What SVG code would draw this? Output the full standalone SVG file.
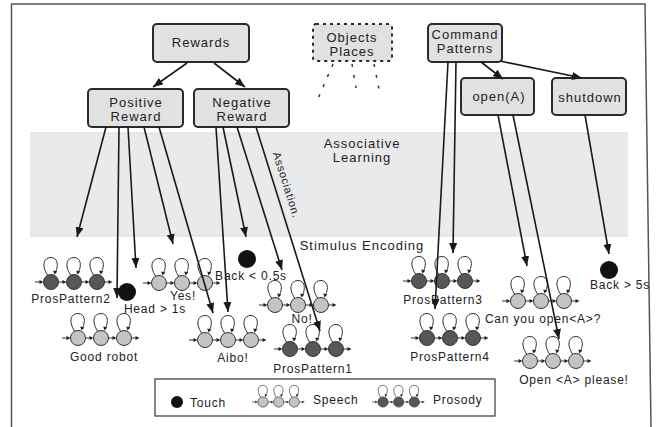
<svg xmlns="http://www.w3.org/2000/svg" xmlns:xlink="http://www.w3.org/1999/xlink" width="656" height="427" viewBox="0 0 656 427">
<style>
.box{fill:#e1e1e1;stroke:#2a2a2a;stroke-width:2}
.dbox{fill:#e1e1e1;stroke:#2a2a2a;stroke-width:2;stroke-dasharray:3,4}
.bt{font-family:"Liberation Sans",Arial,sans-serif;font-size:13px;letter-spacing:1px;fill:#222;text-anchor:middle}
.lt{font-family:"Liberation Sans",Arial,sans-serif;font-size:12px;letter-spacing:0.8px;fill:#222;text-anchor:middle}
.con{stroke:#1a1a1a;stroke-width:1.6;fill:none;marker-end:url(#ah)}
.dash{stroke:#333;stroke-width:1.5;fill:none;stroke-dasharray:3,8}
.sp{fill:#c4c4c4}
.pr{fill:#575757}
.dot{fill:#111}
</style>
<defs>
<marker id="ah" markerUnits="userSpaceOnUse" markerWidth="10" markerHeight="8" refX="10" refY="4" orient="auto">
<path d="M0,0 L10,4 L0,8 z" fill="#1a1a1a"/>
</marker>
<g id="loop">
<path d="M-3.5,-7 C-10,-17 -7,-24.5 0,-24.5 C6.5,-24.5 8,-17 4.5,-10" fill="none" stroke="#333" stroke-width="1"/>
<path d="M3.5,-7.5 L2.2,-11.5 L6.4,-10.6 z" fill="#222"/>
</g>
<g id="pat">
<line x1="-16" y1="0" x2="-11" y2="0" stroke="#333" stroke-width="1"/>
<path d="M-7.5,0 L-11.5,-2 L-11.5,2 z" fill="#222"/>
<line x1="7.5" y1="0" x2="12" y2="0" stroke="#333" stroke-width="1"/>
<path d="M15.5,0 L11.5,-2 L11.5,2 z" fill="#222"/>
<line x1="30.5" y1="0" x2="35" y2="0" stroke="#333" stroke-width="1"/>
<path d="M38.5,0 L34.5,-2 L34.5,2 z" fill="#222"/>
<line x1="53.5" y1="0" x2="58" y2="0" stroke="#333" stroke-width="1"/>
<path d="M61.5,0 L57.5,-2 L57.5,2 z" fill="#222"/>
<circle cx="0" cy="0" r="7.5" stroke="#333" stroke-width="1"/>
<circle cx="23" cy="0" r="7.5" stroke="#333" stroke-width="1"/>
<circle cx="46" cy="0" r="7.5" stroke="#333" stroke-width="1"/>
<use xlink:href="#loop" x="0" y="0"/>
<use xlink:href="#loop" x="23" y="0"/>
<use xlink:href="#loop" x="46" y="0"/>
</g>
</defs>
<rect x="0" y="0" width="656" height="427" fill="#fff"/>
<path d="M11.5,427 L11.5,4 L645,4 L651,427" fill="none" stroke="#555" stroke-width="1.5"/>
<g id="band">
<rect x="30" y="133" width="598" height="103" fill="#e9eaec"/>
<line x1="30" y1="133" x2="628" y2="133" stroke="#d9dadc" stroke-width="1"/>
<line x1="30" y1="236" x2="628" y2="236" stroke="#d9dadc" stroke-width="1"/>
<text class="bt" x="362" y="148">Associative</text>
<text class="bt" x="362" y="162">Learning</text>
<text class="bt" x="362" y="250" style="text-anchor:middle">Stimulus Encoding</text>
</g>
<g id="rewards"><rect class="box" x="153" y="24" width="96" height="38" rx="4"/><text class="bt" x="201" y="47">Rewards</text></g>
<g id="positive"><rect class="box" x="88" y="89" width="95" height="38" rx="4"/><text class="bt" x="136" y="107">Positive</text><text class="bt" x="136" y="121">Reward</text></g>
<g id="negative"><rect class="box" x="194" y="89" width="95" height="38" rx="4"/><text class="bt" x="242" y="107">Negative</text><text class="bt" x="242" y="121">Reward</text></g>
<g id="objects"><rect class="dbox" x="313" y="24" width="79" height="37" rx="3"/><text class="bt" x="352" y="42">Objects</text><text class="bt" x="352" y="56">Places</text></g>
<g id="command"><rect class="box" x="428" y="24" width="74" height="38" rx="4"/><text class="bt" x="465" y="39">Command</text><text class="bt" x="465" y="53">Patterns</text></g>
<g id="openA"><rect class="box" x="461" y="78" width="73" height="37" rx="4"/><text class="bt" x="499" y="101">open(A)</text></g>
<g id="shutdown"><rect class="box" x="552" y="78" width="74" height="37" rx="4"/><text class="bt" x="590" y="102">shutdown</text></g>

<g id="prospattern2"><use xlink:href="#pat" class="pr" x="51" y="282"/><text class="lt" x="71" y="303">ProsPattern2</text></g>
<g id="goodrobot"><use xlink:href="#pat" class="sp" x="78" y="338"/><text class="lt" x="104" y="361">Good robot</text></g>
<g id="head"><circle class="dot" cx="127" cy="292" r="9"/><text class="lt" x="155" y="313">Head &gt; 1s</text></g>
<g id="yes"><use xlink:href="#pat" class="sp" x="159" y="283"/><text class="lt" x="183" y="300">Yes!</text></g>
<g id="back05"><circle class="dot" cx="247" cy="259" r="9"/><text class="lt" x="251" y="280">Back &lt; 0.5s</text></g>
<g id="no"><use xlink:href="#pat" class="sp" x="275" y="305"/><text class="lt" x="302" y="323">No!</text></g>
<g id="aibo"><use xlink:href="#pat" class="sp" x="205" y="340"/><text class="lt" x="233" y="362">Aibo!</text></g>
<g id="prospattern1"><use xlink:href="#pat" class="pr" x="290" y="349"/><text class="lt" x="313" y="373">ProsPattern1</text></g>
<g id="prospattern3"><use xlink:href="#pat" class="pr" x="419" y="281"/><text class="lt" x="443" y="304">ProsPattern3</text></g>
<g id="prospattern4"><use xlink:href="#pat" class="pr" x="427" y="338"/><text class="lt" x="450" y="361">ProsPattern4</text></g>
<g id="canyou"><use xlink:href="#pat" class="sp" x="518" y="301"/><text class="lt" x="543" y="323">Can you open&lt;A&gt;?</text></g>
<g id="openplease"><use xlink:href="#pat" class="sp" x="530" y="361"/><text class="lt" x="574" y="384">Open &lt;A&gt; please!</text></g>
<g id="back5"><circle class="dot" cx="609" cy="270" r="9"/><text class="lt" x="620" y="289">Back &gt; 5s</text></g>

<g id="legend">
<rect x="155" y="379" width="340" height="37" fill="#fff" stroke="#444" stroke-width="1.3"/>
<circle class="dot" cx="177" cy="402" r="6"/>
<text class="lt" x="190" y="407" style="text-anchor:start">Touch</text>
<use xlink:href="#pat" class="sp" transform="translate(263,402) scale(0.68)"/>
<text class="lt" x="313" y="404" style="text-anchor:start">Speech</text>
<use xlink:href="#pat" class="pr" transform="translate(383,402) scale(0.68)"/>
<text class="lt" x="433" y="404" style="text-anchor:start">Prosody</text>
</g>

<g id="connectors">
<line class="con" x1="187" y1="63" x2="153" y2="87"/>
<line class="con" x1="214" y1="63" x2="245" y2="87"/>
<line class="con" x1="481" y1="62" x2="503" y2="79"/>
<line class="con" x1="500" y1="61" x2="582" y2="78"/>
<line class="con" x1="448" y1="62" x2="435" y2="309"/>
<line class="con" x1="456" y1="62" x2="453" y2="253"/>
<line class="con" x1="498" y1="115" x2="527" y2="266"/>
<line class="con" x1="513" y1="115" x2="559" y2="339"/>
<line class="con" x1="585" y1="115" x2="609" y2="254"/>
<line class="con" x1="106" y1="127" x2="77" y2="237"/>
<line class="con" x1="119" y1="127" x2="117" y2="298"/>
<line class="con" x1="128" y1="127" x2="136" y2="268"/>
<line class="con" x1="144" y1="127" x2="173" y2="244"/>
<line class="con" x1="159" y1="127" x2="213" y2="313"/>
<line class="con" x1="216" y1="127" x2="228" y2="312"/>
<line class="con" x1="223" y1="127" x2="246" y2="237"/>
<line class="con" x1="237" y1="127" x2="282" y2="270"/>
<line class="con" x1="256" y1="127" x2="320" y2="331"/>
<path class="dash" d="M333,64 L317,101"/>
<path class="dash" d="M352,64 L356,88"/>
<path class="dash" d="M374,64 L380,94"/>
<text class="lt" x="0" y="0" transform="translate(283,186) rotate(72.5)" style="font-size:11px">Association.</text>
</g>
</svg>
